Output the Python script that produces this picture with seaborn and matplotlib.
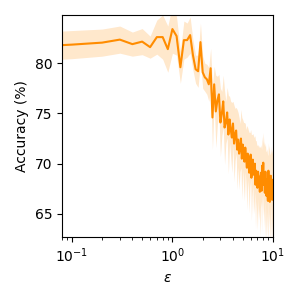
import numpy as np
import pandas as pd
import matplotlib
matplotlib.use("Agg")
import matplotlib.pyplot as plt
import seaborn as sns

# Valores de epsilon (eixo x, escala log)
eps = [0.08, 0.1, 0.2, 0.3, 0.4, 0.5, 0.6, 0.7, 0.8, 0.9,
       1.0, 1.1, 1.2, 1.3, 1.4, 1.5, 1.6, 1.7, 1.8, 1.9,
       2.0, 2.1, 2.2, 2.3, 2.4, 2.5, 2.6, 2.7, 2.8, 2.9,
       3.0, 3.1, 3.2, 3.3, 3.4, 3.5, 3.6, 3.7, 3.8, 3.9,
       4.0, 4.1, 4.2, 4.3, 4.4, 4.5, 4.6, 4.7, 4.8, 4.9,
       5.0, 5.1, 5.2, 5.3, 5.4, 5.5, 5.6, 5.7, 5.8, 5.9,
       6.0, 6.1, 6.2, 6.3, 6.4, 6.5, 6.6, 6.7, 6.8, 6.9,
       7.0, 7.1, 7.2, 7.3, 7.4, 7.5, 7.6, 7.7, 7.8, 7.9,
       8.0, 8.1, 8.2, 8.3, 8.4, 8.5, 8.6, 8.7, 8.8, 8.9,
       9.0, 9.1, 9.2, 9.3, 9.4, 9.5, 9.6, 9.7, 9.8, 9.9, 10.0]

# Acuracia media (%)
acc = [81.8, 81.85, 82.05, 82.35, 81.9, 82.15, 81.6, 82.6, 82.6, 81.4,
       83.4, 82.7, 79.6, 82.3, 82.3, 82.8, 80.8, 79.4, 79.2, 82.1,
       79.1, 78.6, 78.4, 77.9, 79.5, 74.6, 77.9, 75.2, 76.3, 76.9,
       74.1, 75.0, 76.2, 73.6, 74.1, 75.1, 72.9, 74.4, 73.4, 72.6,
       74.0, 72.0, 72.9, 73.3, 71.4, 72.4, 71.0, 71.6, 72.5, 70.5,
       71.9, 70.9, 70.2, 71.6, 70.6, 69.6, 71.0, 70.3, 69.1, 70.4,
       70.9, 68.6, 69.8, 70.4, 68.9, 69.2, 70.0, 67.9, 69.3, 68.4,
       67.6, 69.2, 68.0, 68.7, 67.2, 68.6, 69.1, 67.3, 69.8, 68.4,
       70.1, 67.9, 68.7, 67.1, 69.2, 67.6, 66.8, 68.4, 67.2, 66.3,
       69.3, 67.4, 68.5, 66.2, 67.6, 68.8, 66.6, 67.9, 66.4, 68.4, 67.8]

# Meia largura do intervalo de confianca
ci = [1.4, 1.4, 1.35, 1.35, 1.2, 1.3, 1.1, 1.7, 2.2, 2.3,
      2.4, 1.9, 1.6, 1.9, 1.7, 1.8, 1.5, 1.4, 1.6, 1.9,
      1.6, 1.4, 1.5, 1.7, 2.0, 3.2, 1.8, 3.6, 2.4, 2.0,
      3.4, 2.2, 2.6, 3.7, 2.1, 2.5, 3.9, 2.3, 2.8, 3.5,
      2.2, 3.8, 2.6, 2.3, 4.0, 2.7, 3.6, 2.4, 2.9, 4.1,
      2.5, 3.2, 3.9, 2.4, 2.8, 4.2, 2.6, 3.0, 4.0, 2.7,
      2.5, 4.3, 3.1, 2.6, 3.9, 3.4, 2.8, 4.4, 3.0, 3.5,
      4.2, 2.7, 3.6, 3.1, 4.5, 3.0, 2.8, 4.1, 2.9, 3.6,
      3.0, 4.3, 3.2, 4.6, 2.9, 3.7, 4.4, 3.1, 3.8, 4.5,
      2.8, 3.9, 3.3, 4.7, 3.4, 3.0, 4.4, 3.5, 4.6, 3.1, 3.6]

df = pd.DataFrame({"eps": eps, "acc": acc, "ci": ci})

fig, ax = plt.subplots(figsize=(3, 3), dpi=100)
fig.subplots_adjust(left=0.207, right=0.91, top=0.95, bottom=0.21)

sns.lineplot(data=df, x="eps", y="acc", color="darkorange", errorbar=None, ax=ax, linewidth=1.5)
ax.fill_between(df["eps"], df["acc"] - df["ci"], df["acc"] + df["ci"],
                color="darkorange", alpha=0.2, linewidth=0)

ax.set_xscale("log")
ax.set_xlim(0.08, 10)
ax.set_ylim(62.7, 84.8)
ax.set_yticks([65, 70, 75, 80])
ax.set_xlabel(r"$\epsilon$")
ax.set_ylabel("Accuracy (%)")

fig.savefig("out.png", dpi=100)
